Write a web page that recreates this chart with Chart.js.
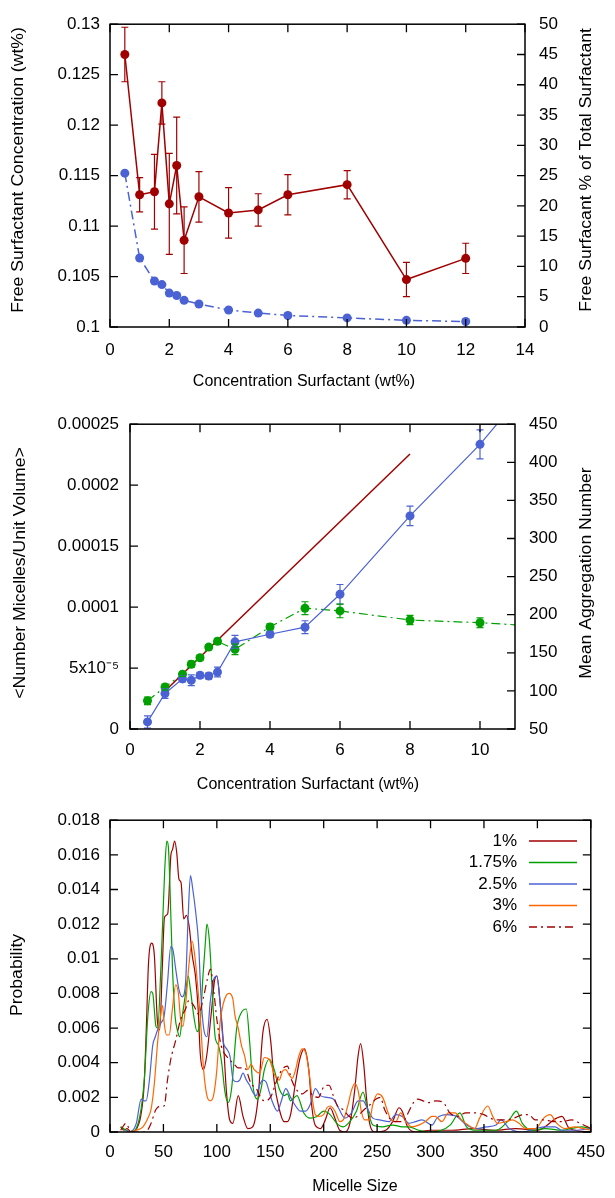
<!DOCTYPE html>
<html>
<head>
<meta charset="utf-8">
<script src="https://cdn.jsdelivr.net/npm/chart.js@4.4.0/dist/chart.umd.min.js"></script>
<style>
  html, body { margin: 0; padding: 0; background: #fff; }
  .panel { position: absolute; left: 0; }
</style>
</head>
<body>
<canvas id="freeChart" class="panel" style="top:0" width="615" height="400"></canvas>
<canvas id="micelleChart" class="panel" style="top:400px" width="615" height="400"></canvas>
<canvas id="sizeChart" class="panel" style="top:800px" width="615" height="398"></canvas>
<script>
// ---- top panel: free surfactant ----
const concA = [0.5, 1, 1.5, 1.75, 2, 2.25, 2.5, 3, 4, 5, 6, 8, 10, 12];
const freeConc = [0.1270, 0.1131, 0.1134, 0.1222, 0.1122, 0.1160, 0.1086, 0.1129, 0.1113, 0.1116, 0.1131, 0.1141, 0.1047, 0.1068];
const freeConcErr = [0.0027, 0.0017, 0.0037, 0.0021, 0.0050, 0.0048, 0.0033, 0.0025, 0.0025, 0.0016, 0.0020, 0.0014, 0.0017, 0.0015];
const freePct = [25.4, 11.4, 7.6, 7.0, 5.6, 5.2, 4.4, 3.8, 2.8, 2.3, 1.9, 1.5, 1.1, 0.9];
const xTicksA = [0, 2, 4, 6, 8, 10, 12, 14];
const yTicksA = [0.1, 0.105, 0.11, 0.115, 0.12, 0.125, 0.13];
const y2TicksA = [0, 5, 10, 15, 20, 25, 30, 35, 40, 45, 50];

// ---- middle panel: micelles and aggregation number ----
const concB = [0.5, 1, 1.5, 1.75, 2, 2.25, 2.5, 3, 4, 5, 6, 8, 10, 12];
const micelles = [5.8e-6, 29.1e-6, 41.1e-6, 40.0e-6, 44.0e-6, 43.5e-6, 46.7e-6, 71.5e-6, 77.7e-6, 83.5e-6, 110.5e-6, 174.8e-6, 233.5e-6, 302e-6];
const micellesErr = [5e-6, 4e-6, 2.4e-6, 4.4e-6, 2.4e-6, 2.4e-6, 4e-6, 5.3e-6, 2.4e-6, 5.3e-6, 8e-6, 8e-6, 11.9e-6, 0];
const aggNumber = [87, 105, 122, 135, 143.5, 157.5, 165, 154.5, 184, 208.5, 205, 193, 189.5, 184];
const aggErr = [5, 4, 3, 4, 3, 3, 4, 7, 4, 8.5, 9, 6, 6.4, 0];
const idealConc = [1, 8];
const idealMicelles = [3.12e-5, 2.255e-4];
const xTicksB = [0, 2, 4, 6, 8, 10];
const yTicksB = [0, 0.00005, 0.0001, 0.00015, 0.0002, 0.00025];
const yTickLabelsB = ['0', '5x10\u207B\u2075', '0.0001', '0.00015', '0.0002', '0.00025'];
const y2TicksB = [50, 100, 150, 200, 250, 300, 350, 400, 450];

// ---- bottom panel: micelle size distributions [size, probability] ----
const dist1 = [[10,0.0003],[13,0.0001],[16,0.0002],[20,0],[25,0.0002],[29,0.0010],[32,0.0028],[34,0.0060],[36,0.0097],[39,0.0109],[41.5,0.0102],[44.5,0.0063],[46.5,0.0059],[49,0.0096],[51,0.0124],[54,0.0126],[57,0.0160],[58.5,0.0163],[60.5,0.0168],[62.5,0.0161],[64.5,0.0146],[66.5,0.0144],[69,0.0123],[71.5,0.0125],[74,0.0119],[77,0.0102],[80,0.0090],[82.5,0.0071],[84.5,0.0045],[87.5,0.0036],[90.5,0.0044],[95,0.0070],[98,0.0088],[100,0.0090],[103,0.0075],[106.5,0.0048],[109,0.0023],[112,0.0007],[115,0.0005],[120,0.0021],[124.5,0.0009],[129,0.0002],[133.5,0.0003],[138.5,0.0019],[143,0.0057],[147,0.0065],[150.5,0.0052],[153.5,0.0030],[158.5,0.0013],[163,0.0006],[166,0.0006],[169,0.0010],[173.5,0.0028],[178,0.0043],[182,0.0048],[186,0.0036],[189,0.0014],[192,0.0004],[197,0.0002],[201.5,0.0007],[206,0.0014],[210.5,0.0008],[215,0.0001],[220,0],[224.5,0.0005],[229,0.0024],[232,0.0043],[234.5,0.0051],[237.5,0.0039],[240,0.0020],[243,0.0005],[247.5,0],[258,0.0001],[264.5,0.0006],[270.5,0.0014],[273.5,0.0012],[278.5,0.0003],[286,0],[300,0.0001],[320,0.0001],[340,0.0002],[360,0.0001],[380,0.0002],[400,0.0001],[418,0.0008],[423,0.0009],[430,0.0002],[450,0]];
const dist175 = [[10,0.0003],[15,0.0001],[20,0],[24.5,0.0002],[29,0.0013],[32.3,0.0032],[35.4,0.0067],[38.4,0.0081],[40,0.0080],[43,0.0061],[44.6,0.0060],[47.7,0.0096],[50.1,0.0134],[51.7,0.0157],[53.2,0.0168],[54.7,0.0164],[56.3,0.0138],[58.4,0.0096],[60.9,0.0067],[63,0.0059],[65.2,0.0055],[67.7,0.0067],[70.7,0.0080],[73.2,0.0090],[75.3,0.0082],[78.4,0.0067],[81.5,0.0058],[84.6,0.0065],[87,0.0090],[89.2,0.0109],[90.7,0.0120],[93.2,0.0109],[95.3,0.0086],[98.4,0.0055],[101.5,0.0050],[104.5,0.0040],[107.6,0.0023],[110.7,0.0017],[113.8,0.0025],[118.4,0.0059],[123,0.0069],[127.6,0.0071],[130.7,0.0052],[133.7,0.0027],[138.4,0.0019],[141.4,0.0025],[144.5,0.0036],[149.1,0.0042],[153.7,0.0036],[158.4,0.0025],[163,0.0021],[166,0.0022],[169,0.0018],[175,0.0021],[181.4,0.0011],[187.5,0.0008],[193.7,0.0009],[199.9,0.0012],[206,0.0010],[212.2,0.0005],[218.3,0.0003],[224.5,0.0006],[230.6,0.0012],[236.8,0.0023],[241.4,0.0012],[246,0.0004],[255,0.0003],[264.4,0.0004],[273.6,0.0003],[279.8,0.0003],[289,0.0001],[298,0],[310,0.0001],[318.3,0.0004],[327.5,0.0011],[333.6,0.0003],[342.9,0.0001],[361.3,0.0001],[373.6,0.0007],[380.4,0.0012],[385.9,0.0005],[395.1,0.0001],[407.4,0.0002],[422.8,0.0001],[441.3,0.0003],[450,0.0002]];
const dist25 = [[15,0.0001],[18.5,0],[24.6,0.0005],[29.2,0.0019],[31.7,0.0018],[33.8,0.0018],[36.9,0.0030],[40,0.0050],[42.4,0.0055],[44.6,0.0059],[47.7,0.0063],[50.7,0.0067],[53.8,0.0086],[56.9,0.0107],[59,0.0105],[61.5,0.0094],[64.6,0.0082],[67.7,0.0078],[70.7,0.0086],[73.2,0.0125],[75.3,0.0148],[77.5,0.0140],[80,0.0128],[83,0.0108],[85,0.0080],[87.6,0.0060],[90.7,0.0055],[93.8,0.0075],[96.9,0.0088],[100,0.0090],[103,0.0075],[106,0.0052],[109.2,0.0048],[112.2,0.0044],[115.3,0.0030],[118.4,0.0029],[121.4,0.0030],[124.5,0.0034],[127.6,0.0030],[130.7,0.0027],[133.7,0.0023],[136.8,0.0021],[139.9,0.0027],[143,0.0030],[146,0.0029],[149.1,0.0023],[152.2,0.0017],[156.8,0.0012],[159.9,0.0017],[164.5,0.0025],[169,0.0020],[173.7,0.0015],[178.3,0.0012],[183,0.0012],[187.5,0.0016],[192.2,0.0025],[196.8,0.0021],[203,0.0020],[209,0.0019],[213.7,0.0014],[219.9,0.0008],[226,0.0011],[232.2,0.0018],[236.8,0.0018],[241.4,0.0013],[246,0.0008],[252.1,0.0007],[261.3,0.0006],[267.5,0.0010],[273.6,0.0009],[279.8,0.0005],[286,0.0006],[292.1,0.0007],[301.3,0.0004],[306,0.0008],[315.2,0.0010],[324.4,0.0009],[333.6,0.0004],[342.9,0.0002],[352.1,0.0003],[361.3,0.0004],[365.9,0.0007],[373.6,0.0002],[386,0],[398.2,0.0002],[407.4,0.0003],[416.6,0.0003],[422.8,0.0001],[435,0.0001],[450,0.0002]];
const dist3 = [[20,0],[24.6,0.0001],[30.8,0.0003],[35.4,0.0008],[38.4,0.0013],[41.5,0.0028],[44.6,0.0052],[47.7,0.0069],[49.2,0.0073],[50.7,0.0063],[52.9,0.0056],[55.4,0.0056],[58.4,0.0071],[61.5,0.0085],[64,0.0080],[66.1,0.0065],[68.3,0.0061],[70.7,0.0073],[73.8,0.0096],[76.9,0.0110],[79.3,0.0102],[81.5,0.0088],[84.5,0.0066],[87.6,0.0036],[90.7,0.0021],[93.8,0.0018],[96.9,0.0021],[100,0.0036],[103,0.0063],[106,0.0074],[109,0.0079],[111.5,0.0080],[114.9,0.0077],[117,0.0067],[120,0.0060],[123,0.0050],[126,0.0044],[129,0.0036],[132,0.0039],[135,0.0036],[140,0.0034],[144.5,0.0043],[149,0.0042],[154,0.0033],[158.4,0.0030],[161.4,0.0035],[164.5,0.0036],[167.6,0.0033],[170.6,0.0031],[173.7,0.0036],[176.8,0.0044],[179.9,0.0048],[183,0.0046],[186,0.0036],[189.1,0.0020],[192.2,0.0010],[195.2,0.0009],[199.9,0.0010],[203,0.0014],[206,0.0015],[210.6,0.0012],[215.2,0.0006],[218.3,0.0007],[222.9,0.0016],[226,0.0024],[229,0.0028],[232.2,0.0024],[235.2,0.0012],[238.3,0.0007],[242.9,0.0007],[246,0.0016],[250.6,0.0022],[255.2,0.0020],[259.8,0.0012],[262.9,0.0007],[267.5,0.0006],[272.1,0.0011],[276.7,0.0006],[282.9,0.0003],[289,0.0004],[295.2,0.0006],[301.3,0.0009],[304.4,0.0009],[310.6,0.0006],[316.7,0.0011],[322.9,0.0011],[329,0.0007],[335.2,0.0004],[341.3,0.0002],[345.9,0.0008],[353.6,0.0015],[358.2,0.0009],[362.8,0.0005],[370.5,0.0006],[376.7,0.0007],[382.8,0.0005],[389,0.0002],[398.2,0.0002],[405.9,0.0008],[411.9,0.0010],[418.2,0.0005],[425.9,0.0002],[435.1,0.0003],[442.8,0.0002],[450,0.0001]];
const dist6 = [[10,0.0001],[12,0.0003],[15,0.0005],[18,0.0002],[22,0],[30,0],[35,0.0001],[38.4,0.0005],[43,0.0013],[47.7,0.0015],[50.7,0.0015],[53.8,0.0030],[56.9,0.0042],[61.5,0.0053],[66.1,0.0065],[70.7,0.0071],[73.8,0.0076],[78.4,0.0073],[83,0.0068],[87.6,0.0078],[91,0.0088],[94,0.0094],[97,0.0082],[100,0.0065],[104,0.0050],[110,0.0043],[115,0.0040],[120,0.0037],[126,0.0037],[132,0.0028],[137,0.0025],[142,0.0019],[146,0.0018],[151,0.0021],[155,0.0028],[161,0.0036],[166,0.0038],[170,0.0030],[175,0.0024],[180,0.0022],[185,0.0024],[190,0.0021],[195,0.0020],[200,0.0026],[205,0.0027],[209,0.0021],[213,0.0015],[218,0.0013],[224,0.0009],[228,0.0008],[233,0.0010],[238,0.0013],[244,0.0016],[249,0.0019],[253,0.0020],[257,0.0013],[263,0.0007],[268,0.0006],[274,0.0006],[279,0.0011],[284,0.0017],[288,0.0019],[293,0.0018],[298,0.0017],[305,0.0018],[312,0.0017],[318,0.0011],[325,0.0009],[333,0.0011],[342,0.0011],[350,0.0010],[356,0.0008],[362,0.0007],[370,0.0007],[378,0.0008],[387,0.0010],[392,0.0010],[398,0.0007],[407,0.0007],[415,0.0006],[423,0.0006],[432,0.0007],[440,0.0005],[447,0.0003],[450,0.0002]];
const distLabels = ['1%', '1.75%', '2.5%', '3%', '6%'];
const xTicksC = [0, 50, 100, 150, 200, 250, 300, 350, 400, 450];
const yTicksC = [0, 0.002, 0.004, 0.006, 0.008, 0.01, 0.012, 0.014, 0.016, 0.018];

const DARKRED = '#a00000', BLUE = '#4b62d4', GREEN = '#00a000', ORANGE = '#ff6600';
const FONT = "'Liberation Sans', Arial, sans-serif";

Chart.defaults.font.family = FONT;
Chart.defaults.font.size = 17;
Chart.defaults.color = '#000';
Chart.defaults.animation = false;

const pts = (xs, ys) => xs.map((x, i) => ({ x: x, y: ys[i] }));
const pairs = arr => arr.map(p => ({ x: p[0], y: p[1] }));
const fixSize = px => scale => { if (scale.isHorizontal()) scale.height = px; else scale.width = px; };
const useTicks = vals => scale => { scale.ticks = vals.map(v => ({ value: v })); };

function axis(opts) {
    return Object.assign({
        type: 'linear',
        grid: { display: false, drawTicks: false },
        border: { display: false },
    }, opts);
}

// inward tick marks on the frame, gnuplot style
const frameTicks = {
    id: 'frameTicks',
    afterDraw(chart, args, opts) {
        const { ctx, chartArea: a } = chart;
        const len = 8;
        ctx.save();
        ctx.strokeStyle = '#000';
        ctx.lineWidth = 1.3;
        ctx.beginPath();
        Object.keys(opts.marks).forEach(id => {
            const scale = chart.scales[id];
            scale.ticks.forEach(t => {
                const p = scale.getPixelForValue(t.value);
                opts.marks[id].forEach(side => {
                    if (side === 'bottom') { ctx.moveTo(p, a.bottom); ctx.lineTo(p, a.bottom - len); }
                    if (side === 'top') { ctx.moveTo(p, a.top); ctx.lineTo(p, a.top + len); }
                    if (side === 'left') { ctx.moveTo(a.left, p); ctx.lineTo(a.left + len, p); }
                    if (side === 'right') { ctx.moveTo(a.right, p); ctx.lineTo(a.right - len, p); }
                });
            });
        });
        ctx.stroke();
        ctx.lineWidth = 1.5;
        ctx.strokeRect(a.left, a.top, a.right - a.left, a.bottom - a.top);
        ctx.restore();
    }
};

// vertical error bars from dataset.errors
const errorBars = {
    id: 'errorBars',
    afterDatasetsDraw(chart) {
        const { ctx, chartArea: a } = chart;
        ctx.save();
        ctx.beginPath();
        ctx.rect(a.left, a.top, a.right - a.left, a.bottom - a.top);
        ctx.clip();
        chart.data.datasets.forEach((ds, i) => {
            if (!ds.errors) return;
            const meta = chart.getDatasetMeta(i);
            const xs = chart.scales[meta.xAxisID], ys = chart.scales[meta.yAxisID];
            ctx.strokeStyle = ds.borderColor;
            ctx.lineWidth = 1.2;
            ctx.setLineDash([]);
            ds.data.forEach((pt, j) => {
                const e = ds.errors[j];
                if (!e) return;
                const x = xs.getPixelForValue(pt.x);
                const lo = ys.getPixelForValue(pt.y - e), hi = ys.getPixelForValue(pt.y + e);
                ctx.beginPath();
                ctx.moveTo(x, lo); ctx.lineTo(x, hi);
                ctx.moveTo(x - 3.5, lo); ctx.lineTo(x + 3.5, lo);
                ctx.moveTo(x - 3.5, hi); ctx.lineTo(x + 3.5, hi);
                ctx.stroke();
            });
        });
        ctx.restore();
    }
};

// axis titles at fixed spots; vertical ones read bottom to top and are a bit stretched
const axisTitles = {
    id: 'axisTitles',
    afterDraw(chart, args, opts) {
        const ctx = chart.ctx;
        opts.items.forEach(it => {
            ctx.save();
            ctx.font = '16px ' + FONT;
            ctx.fillStyle = '#000';
            ctx.textAlign = 'center';
            ctx.textBaseline = 'middle';
            ctx.translate(it.x, it.y);
            if (it.vertical) {
                ctx.scale(1, 1.1);
                ctx.rotate(-Math.PI / 2);
            }
            ctx.fillText(it.text, 0, 0);
            ctx.restore();
        });
    }
};

// key in the top right corner: text right aligned, sample line after it
const sizeKey = {
    id: 'sizeKey',
    afterDraw(chart, args, opts) {
        const ctx = chart.ctx;
        ctx.save();
        ctx.font = '17px ' + FONT;
        ctx.fillStyle = '#000';
        ctx.textAlign = 'right';
        ctx.textBaseline = 'middle';
        chart.data.datasets.forEach((ds, i) => {
            const y = opts.top + i * opts.row;
            ctx.fillText(ds.label, opts.textRight, y);
            ctx.strokeStyle = ds.borderColor;
            ctx.lineWidth = 1.3;
            ctx.setLineDash(ds.borderDash || []);
            ctx.beginPath();
            ctx.moveTo(opts.lineStart, y);
            ctx.lineTo(opts.lineEnd, y);
            ctx.stroke();
        });
        ctx.restore();
    }
};

new Chart(document.getElementById('freeChart'), {
    type: 'line',
    data: {
        datasets: [
            {
                label: 'Free surfactant (wt%)',
                data: pts(concA, freeConc),
                errors: freeConcErr,
                yAxisID: 'y',
                borderColor: DARKRED,
                backgroundColor: DARKRED,
                borderWidth: 1.5,
                pointRadius: 4.5,
                pointBorderWidth: 0,
                tension: 0,
            },
            {
                label: 'Free surfactant % of total',
                data: pts(concA, freePct),
                yAxisID: 'y2',
                borderColor: BLUE,
                backgroundColor: BLUE,
                borderWidth: 1.5,
                borderDash: [9, 4, 2, 4],
                pointRadius: 4.5,
                pointBorderWidth: 0,
                tension: 0,
            },
        ],
    },
    options: {
        responsive: false,
        layout: { padding: { top: 14, left: 0, right: 0, bottom: 0 } },
        plugins: {
            legend: { display: false },
            tooltip: { enabled: false },
            frameTicks: { marks: { x: ['bottom', 'top'], y: ['left'], y2: ['right'] } },
            axisTitles: { items: [
                { text: 'Concentration Surfactant (wt%)', x: 304, y: 382 },
                { text: 'Free Surfactant Concentration (wt%)', x: 18.5, y: 170, vertical: true },
                { text: 'Free Surfacant % of Total Surfactant', x: 587, y: 170, vertical: true },
            ] },
        },
        scales: {
            x: axis({
                position: 'bottom', min: 0, max: 14,
                afterBuildTicks: useTicks(xTicksA), afterFit: fixSize(73),
                ticks: { padding: 13, maxRotation: 0, autoSkip: false },
            }),
            y: axis({
                position: 'left', min: 0.1, max: 0.13,
                afterBuildTicks: useTicks(yTicksA), afterFit: fixSize(110),
                ticks: { padding: 10, callback: v => String(v) },
            }),
            y2: axis({
                position: 'right', min: 0, max: 50,
                afterBuildTicks: useTicks(y2TicksA), afterFit: fixSize(90),
                ticks: { padding: 14, callback: v => String(v) },
            }),
        },
    },
    plugins: [errorBars, frameTicks, axisTitles],
});

new Chart(document.getElementById('micelleChart'), {
    type: 'line',
    data: {
        datasets: [
            {
                label: 'Number of micelles',
                data: pts(concB, micelles),
                errors: micellesErr,
                yAxisID: 'y',
                borderColor: BLUE,
                backgroundColor: BLUE,
                borderWidth: 1.2,
                pointRadius: 4.5,
                pointBorderWidth: 0,
                tension: 0,
            },
            {
                label: 'Mean aggregation number',
                data: pts(concB, aggNumber),
                errors: aggErr,
                yAxisID: 'y2',
                borderColor: GREEN,
                backgroundColor: GREEN,
                borderWidth: 1.2,
                borderDash: [9, 4, 2, 4],
                pointRadius: 4.5,
                pointBorderWidth: 0,
                tension: 0,
            },
            {
                label: 'Linear',
                data: pts(idealConc, idealMicelles),
                yAxisID: 'y',
                borderColor: DARKRED,
                borderWidth: 1.5,
                pointRadius: 0,
                tension: 0,
            },
        ],
    },
    options: {
        responsive: false,
        layout: { padding: { top: 17, left: 0, right: 0, bottom: 0 } },
        plugins: {
            legend: { display: false },
            tooltip: { enabled: false },
            frameTicks: { marks: { x: ['bottom', 'top'], y: ['left'], y2: ['right'] } },
            axisTitles: { items: [
                { text: 'Concentration Surfactant (wt%)', x: 308, y: 385 },
                { text: '<Number Micelles/Unit Volume>', x: 21, y: 173, vertical: true },
                { text: 'Mean Aggregation Number', x: 586.5, y: 173, vertical: true },
            ] },
        },
        scales: {
            x: axis({
                position: 'bottom', min: 0, max: 11,
                afterBuildTicks: useTicks(xTicksB), afterFit: fixSize(71),
                ticks: { padding: 11, maxRotation: 0, autoSkip: false },
            }),
            y: axis({
                position: 'left', min: 0, max: 0.00025,
                afterBuildTicks: useTicks(yTicksB), afterFit: fixSize(130),
                ticks: { padding: 11, callback: (v, i) => yTickLabelsB[i] },
            }),
            y2: axis({
                position: 'right', min: 50, max: 450,
                afterBuildTicks: useTicks(y2TicksB), afterFit: fixSize(100),
                ticks: { padding: 14, callback: v => String(v) },
            }),
        },
    },
    plugins: [errorBars, frameTicks, axisTitles],
});

const distColors = [DARKRED, GREEN, BLUE, ORANGE, DARKRED];
const distData = [dist1, dist175, dist25, dist3, dist6];

new Chart(document.getElementById('sizeChart'), {
    type: 'line',
    data: {
        datasets: distData.map((d, i) => ({
            label: distLabels[i],
            data: pairs(d),
            borderColor: distColors[i],
            borderWidth: 1.2,
            borderDash: i === 4 ? [8, 4, 2, 4] : [],
            pointRadius: 0,
            cubicInterpolationMode: 'monotone',
            order: 5 - i,
        })),
    },
    options: {
        responsive: false,
        layout: { padding: { top: 19, left: 0, right: 18, bottom: 0 } },
        plugins: {
            legend: { display: false },
            tooltip: { enabled: false },
            frameTicks: { marks: { x: ['bottom', 'top'], y: ['left', 'right'] } },
            sizeKey: { top: 41, row: 21.5, textRight: 517, lineStart: 529, lineEnd: 577 },
            axisTitles: { items: [
                { text: 'Micelle Size', x: 355, y: 387 },
                { text: 'Probability', x: 18, y: 175, vertical: true },
            ] },
        },
        scales: {
            x: axis({
                position: 'bottom', min: 0, max: 450,
                afterBuildTicks: useTicks(xTicksC), afterFit: fixSize(66),
                ticks: { padding: 10, maxRotation: 0, autoSkip: false },
            }),
            y: axis({
                position: 'left', min: 0, max: 0.018,
                afterBuildTicks: useTicks(yTicksC), afterFit: fixSize(110),
                ticks: { padding: 10, callback: v => String(v) },
            }),
        },
    },
    plugins: [frameTicks, sizeKey, axisTitles],
});
</script>
</body>
</html>
